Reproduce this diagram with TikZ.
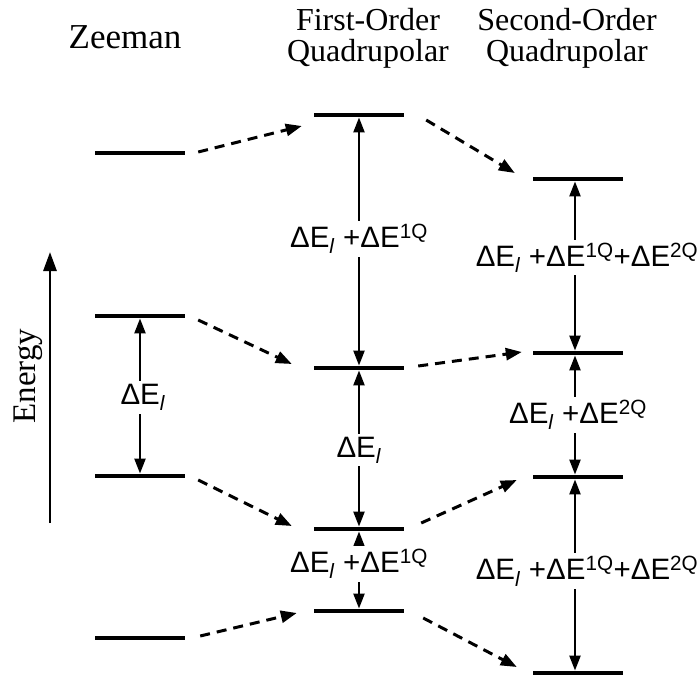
\documentclass[tikz,border=0pt]{standalone}
\usepackage{fontspec}
\setmainfont{Liberation Serif}
\newfontfamily\lblfont{Liberation Sans}
\usetikzlibrary{arrows.meta}

\begin{document}
\begin{tikzpicture}[
    x=1pt, y=-1pt, %% one unit is one pixel of the reference, y downwards
    level/.style={
        rectangle,
        fill=black,
        inner sep=0pt,
        minimum width=90pt,
        minimum height=4.5pt
    },
    gaparrow/.style={
        {Triangle[length=15pt,width=11pt]}-{Triangle[length=15pt,width=11pt]},
        line width=2.4pt
    },
    dasharrow/.style={
        -{Triangle[length=16pt,width=12pt]},
        line width=3pt,
        dash pattern=on 10pt off 7pt
    },
    delta/.style={
        fill=white,
        inner sep=3pt,
        font=\lblfont\fontsize{29.5}{30}\selectfont
    },
    head/.style={
        align=center,
        font=\fontsize{32}{31}\selectfont
    }
]
\useasboundingbox (0,0) rectangle (697,681);

%% Column titles
\node[head, font=\fontsize{35}{33}\selectfont] (zeeman) at (125,37) {Zeeman};
\node[head] (first) at (368,38) {First-Order\\Quadrupolar};
\node[head] (second) at (567,38) {Second-Order\\Quadrupolar};

%% Energy axis
\coordinate (ebot) at (50,523);
\coordinate (etop) at (50,252);
\draw[-{Triangle[length=19pt,width=13pt]}, line width=2.8pt] (ebot) -- (etop);
\node[rotate=90, font=\fontsize{33}{30}\selectfont] (energy) at (28,376) {Energy};

%% Zeeman levels
\node[level] (z1) at (140,153) {};
\node[level] (z2) at (140,316) {};
\node[level] (z3) at (140,476) {};
\node[level] (z4) at (140,638) {};

%% First-order levels
\node[level] (f1) at (359,115) {};
\node[level] (f2) at (359,368) {};
\node[level] (f3) at (359,529) {};
\node[level] (f4) at (359,611) {};

%% Second-order levels
\node[level] (s1) at (578,179) {};
\node[level] (s2) at (578,353) {};
\node[level] (s3) at (578,477) {};
\node[level] (s4) at (578,673) {};

%% Splittings
\draw[gaparrow] (z2.south) -- (z3.north)
    node[delta, pos=0.51, xshift=3pt] {ΔE\textsubscript{\textit{l}}};
\draw[gaparrow] (f1.south) -- (f2.north)
    node[delta, pos=0.49] {ΔE\textsubscript{\textit{l}} +ΔE\textsuperscript{1Q}};
\draw[gaparrow] (f2.south) -- (f3.north)
    node[delta, pos=0.51] {ΔE\textsubscript{\textit{l}}};
\draw[gaparrow] (f3.south) -- (f4.north)
    node[delta, pos=0.42] {ΔE\textsubscript{\textit{l}} +ΔE\textsuperscript{1Q}};
\draw[gaparrow] ([xshift=-3pt]s1.south) -- ([xshift=-3pt]s2.north)
    node[delta, pos=0.45, xshift=12pt] {ΔE\textsubscript{\textit{l}} +ΔE\textsuperscript{1Q}+ΔE\textsuperscript{2Q}};
\draw[gaparrow] ([xshift=-3pt]s2.south) -- ([xshift=-3pt]s3.north)
    node[delta, pos=0.5, xshift=3pt] {ΔE\textsubscript{\textit{l}} +ΔE\textsuperscript{2Q}};
\draw[gaparrow] ([xshift=-3pt]s3.south) -- ([xshift=-3pt]s4.north)
    node[delta, pos=0.48, xshift=12pt] {ΔE\textsubscript{\textit{l}} +ΔE\textsuperscript{1Q}+ΔE\textsuperscript{2Q}};

%% Zeeman to first order
\draw[dasharrow] ([shift={(13,-1)}]z1.east) -- ([shift={(-12,11)}]f1.west);
\draw[dasharrow] ([shift={(13,4)}]z2.east) -- ([shift={(-22,-4)}]f2.west);
\draw[dasharrow] ([shift={(13,4)}]z3.east) -- ([shift={(-22,-3)}]f3.west);
\draw[dasharrow] ([shift={(15,-2)}]z4.east) -- ([shift={(-17,2)}]f4.west);

%% First order to second order
\draw[dasharrow] ([shift={(22,5)}]f1.east) -- ([shift={(-18,-6)}]s1.west);
\draw[dasharrow] ([shift={(14,-2)}]f2.east) -- ([shift={(-11,-1)}]s2.west);
\draw[dasharrow] ([shift={(17,-6)}]f3.east) -- ([shift={(-16,3)}]s3.west);
\draw[dasharrow] ([shift={(19,7)}]f4.east) -- ([shift={(-16,-6)}]s4.west);

\end{tikzpicture}
\end{document}
